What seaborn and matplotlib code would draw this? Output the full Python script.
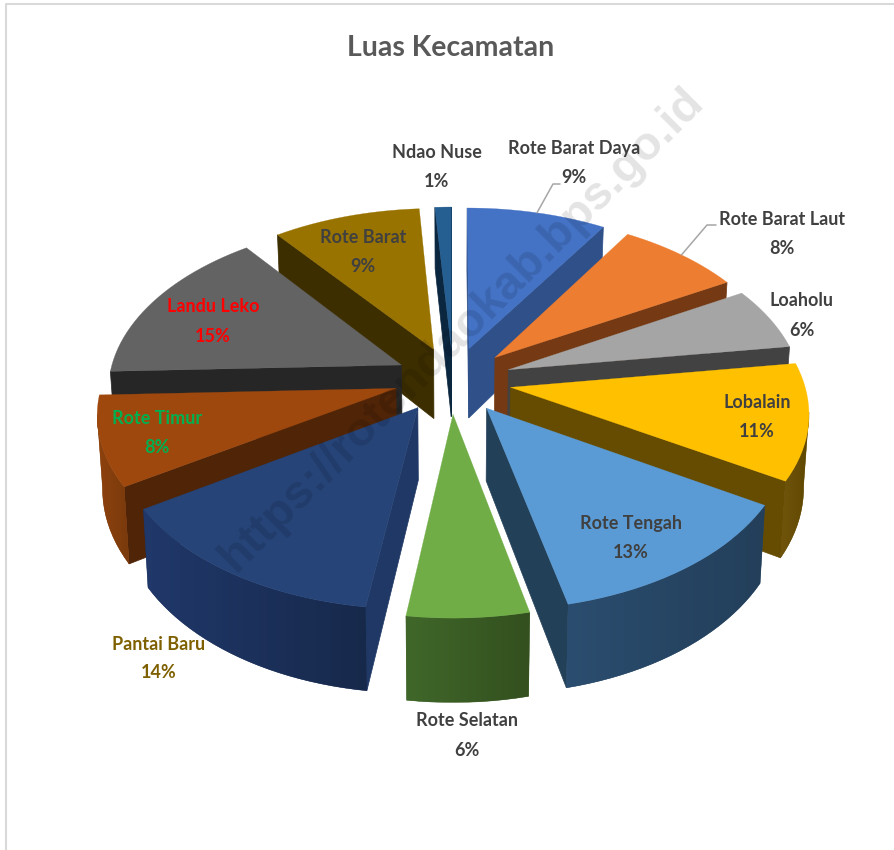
import numpy as np
import matplotlib
matplotlib.use("Agg")
import matplotlib.pyplot as plt
from matplotlib.colors import to_rgb
from matplotlib.patches import Polygon
import seaborn as sns

# ---- data ----
categories = ["Rote Barat Daya", "Rote Barat Laut", "Loaholu", "Lobalain", "Rote Tengah",
              "Rote Selatan", "Pantai Baru", "Rote Timur", "Landu Leko", "Rote Barat", "Ndao Nuse"]
shares = [9, 8, 6, 11, 13, 6, 14, 8, 15, 9, 1]

# ---- styles ----
top_colors = ["#4472C4", "#ED7D31", "#A5A5A5", "#FFC000", "#5B9BD5", "#70AD47",
              "#264478", "#9E480E", "#636363", "#997300", "#255E91"]
wall_colors = ["#2F5089", "#753A14", "#424242", "#664C00", "#234059", "#3E6426",
               "#1F3865", "#4F2407", "#262626", "#3D2E00", "#0B2740"]
rim_right = ["#2F5089", "#753A14", "#424242", "#5F4700", "#233F5A", "#33501E",
             "#17294B", "#7A3A0C", "#262626", "#3D2E00", "#0B2740"]
rim_left = ["#2F5089", "#753A14", "#424242", "#70540C", "#2B4D6F", "#40672A",
            "#20386A", "#8E420E", "#262626", "#3D2E00", "#0B2740"]
label_colors = ["#404040", "#404040", "#404040", "#404040", "#404040", "#404040",
                "#7F6000", "#00B050", "#FF0000", "#404040", "#404040"]
label_xy = [(574, 148), (782, 219), (802, 301), (757, 402), (631, 523), (467, 721),
            (159, 644), (157, 418), (213, 307), (363, 237), (437, 152)]
label_gap = 29
leader_elbows = {0: [(553, 184), (560, 184)], 1: [(707, 225), (716, 225)]}

# ---- projection parameters ----
CX, CY = 453, 380
A, K, P = 293, 167, 0.132
H = 71
EXPLODE = 0.2
WARP_AT = [0, 60, 120, 170, 190, 240, 270, 325, 360]
WARP_BY = [0, 1, 1.2, 2, 3, 4, 2.2, 1.5, 0]

sns.set_theme(style="white")
plt.rcParams["font.family"] = ["Lato", "DejaVu Sans"]

fig = plt.figure(figsize=(8.95, 8.5), dpi=100, facecolor="white")
ax = fig.add_axes([0, 0, 1, 1])


def project(X, Y, Z=0.0):
    s = 1 / (1 + P * Y)
    return CX + A * X * s * (1 - 0.015 * Z), CY - K * Y * s + H * Z * s


def warp(t):
    return t - np.radians(np.interp(np.degrees(t), WARP_AT, WARP_BY))


def add(points, color, z, lw=0.5):
    p = Polygon(points, closed=True, facecolor=color, edgecolor=color, linewidth=lw, zorder=z)
    ax.add_patch(p)
    return p


def gradient_face(points, left, right, z):
    """Rim face: plain polygon under a left-to-right gradient clipped to it."""
    c0, c1 = np.array(to_rgb(left)), np.array(to_rgb(right))
    mean = tuple((c0 + c1) / 2)
    patch = add(points, mean, z, lw=0.3)
    xs = [p[0] for p in points]
    ys = [p[1] for p in points]
    ramp = np.linspace(0, 1, 64)[None, :, None]
    img = c0[None, None, :] + (c1 - c0)[None, None, :] * ramp
    im = ax.imshow(img, extent=(min(xs), max(xs), max(ys), min(ys)), aspect="auto",
                   interpolation="bilinear", zorder=z + 0.0005)
    im.set_clip_path(patch)


# wedge geometry comes from the shares
fractions = np.array(shares, dtype=float) / sum(shares)
edges = np.concatenate([[0], np.cumsum(fractions)]) * 2 * np.pi
wedges = []
for i in range(len(shares)):
    t0, t1 = edges[i], edges[i + 1]
    mid = (t0 + t1) / 2
    ox, oy = EXPLODE * np.sin(mid), EXPLODE * np.cos(mid)
    wedges.append((oy, i, t0, t1, mid, ox))

z = 3
rim_mid = {}
for oy, i, t0, t1, mid, ox in sorted(wedges, key=lambda w: -w[0]):
    n = max(4, int((t1 - t0) / np.radians(2)))
    th = warp(np.linspace(t0, t1, n + 1))
    world = [(ox, oy)] + [(ox + np.sin(t), oy + np.cos(t)) for t in th]
    w = warp(mid)
    rim_mid[i] = project(ox + np.sin(w), oy + np.cos(w))
    top = [project(x, y) for x, y in world]
    bot = [project(x, y, 1.0) for x, y in world]
    m = len(top)
    # the two flat cut faces
    for j, k in ((0, 1), (m - 1, 0)):
        if top[k][0] < top[j][0]:
            add([top[j], top[k], bot[k], bot[j]], wall_colors[i], z)
            z += 0.001
    # the curved outer face: only the run that faces the viewer
    run = [j for j in range(1, m - 1) if top[j + 1][0] < top[j][0]]
    if run:
        idx = run + [run[-1] + 1]
        gradient_face([top[j] for j in idx] + [bot[j] for j in reversed(idx)],
                      rim_left[i], rim_right[i], z)
        z += 0.001
    add(top, top_colors[i], z, lw=0.2)
    z += 1

# watermark
ax.text(462, 330, "https://rotendaokab.bps.go.id", rotation=45, rotation_mode="anchor",
        ha="center", va="center", fontsize=34, fontweight="bold",
        family=["Liberation Sans", "DejaVu Sans"], color="black", alpha=0.11, zorder=50)

# frame
ax.plot([6, 6, 895], [850, 4, 4], color="#D9D9D9", lw=1.5, zorder=1)

# leaders
for i, elbow in leader_elbows.items():
    xs = [rim_mid[i][0]] + [p[0] for p in elbow]
    ys = [rim_mid[i][1]] + [p[1] for p in elbow]
    ax.plot(xs, ys, color="#A6A6A6", lw=1.1, zorder=60)

# labels
ax.text(451, 48, "Luas Kecamatan", ha="center", va="center", fontsize=20.5,
        fontweight="bold", color="#595959", zorder=70)
for name, share, (x, y), col in zip(categories, shares, label_xy, label_colors):
    ax.text(x, y, name, ha="center", va="center", fontsize=13, fontweight="bold", color=col, zorder=70)
    ax.text(x, y + label_gap, f"{share}%", ha="center", va="center", fontsize=13, fontweight="bold", color=col, zorder=70)

ax.set_xlim(0, 895)
ax.set_ylim(850, 0)
ax.axis("off")
fig.savefig("out.png", dpi=100)
